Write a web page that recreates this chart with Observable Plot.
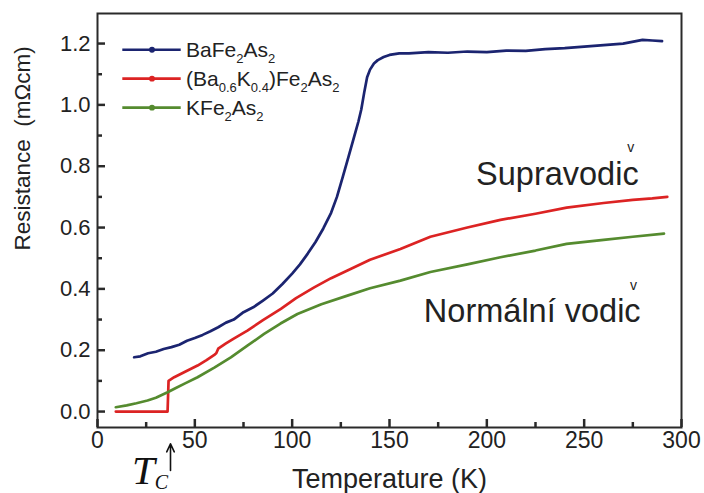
<!DOCTYPE html>
<html>
<head>
<meta charset="utf-8">
<script src="https://cdn.jsdelivr.net/npm/d3@7"></script>
<script src="https://cdn.jsdelivr.net/npm/@observablehq/plot@0.6"></script>
<style>
  body { margin: 0; background: #fff; }
  #chart svg { display: block; }
</style>
</head>
<body>
<div id="chart"></div>
<script>
// Resistance vs temperature of three iron-arsenide samples

// BaFe2As2 (parent compound, structural/magnetic transition near 140 K)
const baT = [18.8, 22, 26, 30, 34, 38, 42, 46, 50, 54, 58, 62, 66, 70, 75, 80, 85, 90, 95, 100,
  104, 108, 112, 116, 120, 123, 126, 129, 132, 134, 135.5, 137, 138.5, 140, 142, 144, 147, 150,
  155, 160, 170, 180, 190, 200, 210, 220, 230, 240, 250, 260, 270, 280, 285, 290];
const baR = [0.177, 0.18, 0.19, 0.195, 0.204, 0.21, 0.218, 0.231, 0.24, 0.25, 0.262, 0.275, 0.29,
  0.3, 0.324, 0.34, 0.362, 0.385, 0.416, 0.45, 0.48, 0.515, 0.553, 0.597, 0.648, 0.7, 0.765,
  0.832, 0.9, 0.945, 0.985, 1.04, 1.09, 1.115, 1.135, 1.146, 1.156, 1.163, 1.168, 1.168, 1.172,
  1.17, 1.174, 1.172, 1.177, 1.176, 1.182, 1.185, 1.19, 1.195, 1.2, 1.212, 1.21, 1.208];

// (Ba0.6K0.4)Fe2As2 (superconducting below Tc)
const bkT = [9.4, 20, 30, 36, 36.5, 39.4, 45, 51.4, 56, 60, 61, 62, 66, 70, 77, 85, 94.2, 102,
  111.3, 120, 128.4, 140, 155.6, 171, 190, 207, 225, 241, 260, 275, 285, 292.7];
const bkR = [0, 0, 0, 0, 0.1, 0.112, 0.13, 0.15, 0.168, 0.185, 0.19, 0.205, 0.222, 0.238, 0.264,
  0.298, 0.335, 0.37, 0.405, 0.435, 0.46, 0.495, 0.53, 0.57, 0.6, 0.625, 0.645, 0.665, 0.68,
  0.69, 0.695, 0.7];

// KFe2As2
const kT = [9.4, 15, 20, 25.7, 30, 36, 40, 45, 51.4, 60, 68.5, 77, 85.6, 94, 102.7, 115, 128.4,
  140, 155.6, 171, 190, 207, 225, 241, 260, 275, 291];
const kR = [0.014, 0.02, 0.027, 0.036, 0.045, 0.063, 0.076, 0.092, 0.112, 0.143, 0.177, 0.215,
  0.253, 0.287, 0.318, 0.35, 0.378, 0.402, 0.427, 0.455, 0.48, 0.503, 0.525, 0.547, 0.56, 0.57,
  0.58];

const Tc = 37.5;

const xTicks = [0, 50, 100, 150, 200, 250, 300];
const xMinorTicks = [25, 75, 125, 175, 225, 275];
const yTicks = [0.0, 0.2, 0.4, 0.6, 0.8, 1.0, 1.2];
const yMinorTicks = [0.1, 0.3, 0.5, 0.7, 0.9, 1.1];

const seriesNames = ["BaFe2As2", "(Ba0.6K0.4)Fe2As2", "KFe2As2"];
const seriesColors = ["#1b2470", "#dc2323", "#558b2f"];
// legend labels split into [text, isSubscript] pieces
const legendParts = [
  [["BaFe", 0], ["2", 1], ["As", 0], ["2", 1]],
  [["(Ba", 0], ["0.6", 1], ["K", 0], ["0.4", 1], [")Fe", 0], ["2", 1], ["As", 0], ["2", 1]],
  [["KFe", 0], ["2", 1], ["As", 0], ["2", 1]]
];

const toRows = (T, R) => T.map((t, i) => ({T: t, R: R[i]}));
const series = [toRows(baT, baR), toRows(bkT, bkR), toRows(kT, kR)];

// legend layout (in data units of the axes)
const legendRows = seriesNames.map((name, i) => ({
  name, color: seriesColors[i],
  y: 1.18 - i * 0.0945, x1: 13, x2: 43, xm: 28, xt: 45.5
}));

const W = 704, H = 493;
const margin = {left: 97, right: 23, top: 13, bottom: 66};
const frameW = W - margin.left - margin.right;
const frameH = H - margin.top - margin.bottom;
const xDomain = [0, 300];
const yDomain = [-0.052, 1.298];
// data units per pixel, used to size the inward tick marks
const xPerPx = (xDomain[1] - xDomain[0]) / frameW;
const yPerPx = (yDomain[1] - yDomain[0]) / frameH;

const ink = "#222";
const axisInk = "#2a2a2a";
const sans = "'Liberation Sans', Arial, Helvetica, sans-serif";
const serif = "'Liberation Serif', 'DejaVu Serif', serif";

// short inward ticks along the bottom and left edges of the frame
const tickRowsX = (ticks, len) => ticks.map(t => ({x: t, y1: yDomain[0], y2: yDomain[0] + len * yPerPx}));
const tickRowsY = (ticks, len) => ticks.map(t => ({y: t, x1: xDomain[0], x2: xDomain[0] + len * xPerPx}));
const inwardX = (ticks, len) => Plot.ruleX(tickRowsX(ticks, len), {x: "x", y1: "y1", y2: "y2",
  stroke: axisInk, strokeWidth: 2.5});
const inwardY = (ticks, len) => Plot.ruleY(tickRowsY(ticks, len), {y: "y", x1: "x1", x2: "x2",
  stroke: axisInk, strokeWidth: 2.5});

const chart = Plot.plot({
  width: W,
  height: H,
  marginLeft: margin.left,
  marginRight: margin.right,
  marginTop: margin.top,
  marginBottom: margin.bottom,
  style: {fontFamily: sans, background: "#fff", color: ink},
  x: {domain: xDomain},
  y: {domain: yDomain},
  marks: [
    // data curves
    ...series.map((rows, i) => Plot.line(rows, {
      x: "T", y: "R", stroke: seriesColors[i], strokeWidth: 2.7,
      strokeLinejoin: "round", strokeLinecap: "round"
    })),
    inwardX(xTicks, 8),
    inwardX(xMinorTicks, 5),
    inwardY(yTicks, 8),
    inwardY(yMinorTicks, 5),
    Plot.frame({stroke: axisInk, strokeWidth: 2}),
    // tick labels
    Plot.axisX({ticks: xTicks, tickSize: 0, tickPadding: 4, fontSize: 23,
      tickFormat: d => String(d), label: null}),
    Plot.axisY({ticks: yTicks, tickSize: 0, tickPadding: 7, fontSize: 22,
      tickFormat: d3.format(".1f"), label: null}),
    // axis titles
    Plot.text(["Temperature (K)"], {frameAnchor: "bottom", lineAnchor: "middle", dy: 52,
      fontSize: 27, fill: ink}),
    Plot.text(["Resistance  (mΩcm)"], {frameAnchor: "left", dx: -75, dy: 30, rotate: -90,
      fontSize: 22.5, fill: ink}),
    // legend
    Plot.ruleY(legendRows, {y: "y", x1: "x1", x2: "x2", stroke: "color", strokeWidth: 2.6}),
    Plot.dot(legendRows, {x: "xm", y: "y", r: 2.2, fill: "color", stroke: "color"}),
    Plot.text(legendRows, {x: "xt", y: "y", text: "name", textAnchor: "start", fontSize: 21,
      fill: ink, dy: 1}),
    // annotations
    Plot.text(["Supravodic"], {x: 278, y: 0.753, textAnchor: "end", lineAnchor: "bottom",
      fontSize: 32.5, fill: ink, dy: 4}),
    Plot.text(["v"], {x: 278, y: 0.753, dx: -8, dy: -33, fontSize: 14, fill: ink}),
    Plot.text(["Normální vodic"], {x: 279, y: 0.306, textAnchor: "end", lineAnchor: "bottom",
      fontSize: 32.5, fill: ink, dy: 4}),
    Plot.text(["v"], {x: 279, y: 0.306, dx: -7, dy: -32, fontSize: 14, fill: ink}),
    // critical temperature marker
    Plot.arrow([Tc], {x1: d => d, x2: d => d, y1: -0.192, y2: -0.105, stroke: "#111",
      strokeWidth: 1.6, headLength: 9, headAngle: 50}),
    Plot.text([Tc], {x: d => d, frameAnchor: "bottom", lineAnchor: "middle", text: () => "T",
      dx: -27, dy: 43, fontFamily: serif, fontStyle: "italic", fontSize: 41, fill: "#111"}),
    Plot.text([Tc], {x: d => d, frameAnchor: "bottom", lineAnchor: "middle", text: () => "C",
      dx: -9, dy: 55, fontFamily: serif, fontStyle: "italic", fontSize: 20, fill: "#111"})
  ]
});

document.getElementById("chart").appendChild(chart);

// chemical formulas: rebuild legend labels with subscript spans
const partsByName = new Map(seriesNames.map((n, i) => [n, legendParts[i]]));
d3.select(chart).selectAll("text").each(function () {
  const parts = partsByName.get(this.textContent);
  if (!parts) return;
  const t = d3.select(this);
  t.text(null);
  let shifted = false;
  for (const [str, sub] of parts) {
    const span = t.append("tspan").text(str);
    if (sub && !shifted) { span.attr("dy", 6).attr("font-size", 13); shifted = true; }
    else if (sub) { span.attr("font-size", 13); }
    else if (shifted) { span.attr("dy", -6); shifted = false; }
  }
});
</script>
</body>
</html>
